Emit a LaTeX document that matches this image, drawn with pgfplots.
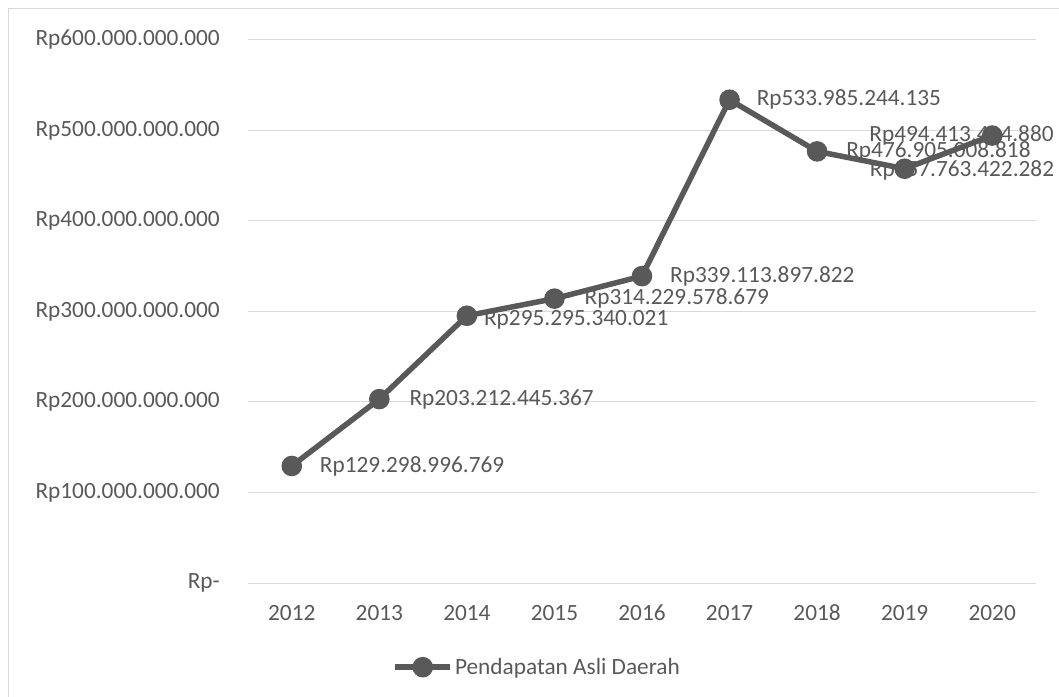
\documentclass[border=0pt]{standalone}
\usepackage{pgfplots}
\pgfplotsset{compat=1.18}
\usepackage{fontspec}
\setmainfont{Carlito}
\definecolor{tx}{HTML}{595959}
\definecolor{gr}{HTML}{D9D9D9}
\newcommand{\lf}{\fontsize{23.3bp}{27bp}\selectfont}
\begin{document}
\begin{tikzpicture}
\useasboundingbox (0,0) rectangle (1059bp,697bp);
\draw[gr, line width=1bp] (8.5bp,-5bp) rectangle (1065bp,688.5bp);
\begin{axis}[
  at={(248bp,114bp)}, anchor=south west,
  scale only axis, width=788bp, height=543bp,
  xmin=-0.5, xmax=8.5, ymin=0, ymax=600,
  clip=false,
  xtick={0,1,2,3,4,5,6,7,8},
  xticklabels={2012,2013,2014,2015,2016,2017,2018,2019,2020},
  ytick={0,100,200,300,400,500,600},
  yticklabels={Rp-\hspace{11bp},Rp100.000.000.000,Rp200.000.000.000,Rp300.000.000.000,Rp400.000.000.000,Rp500.000.000.000,Rp600.000.000.000},
  ymajorgrids, major grid style={gr, line width=1bp},
  axis line style={draw=none},
  major tick length=0pt,
  ticklabel style={font=\lf, text=tx, inner sep=0pt},
  yticklabel style={anchor=east, xshift=-28bp},
  xticklabel style={anchor=base, yshift=-37.5bp},
  legend style={at={(0.367,-0.155)}, anchor=center, draw=none, fill=none, font=\lf, text=tx, inner sep=0pt},
  legend image code/.code={\draw[line width=5.5bp, tx] (0bp,0bp) -- (55bp,0bp); \fill[tx] (27.5bp,0bp) circle (7.5bp);},
]
\addplot[tx, line width=5.5bp, mark=*, mark size=7.5bp, mark options={fill=tx, draw=tx}] coordinates {
  (0,129.298996769) (1,203.212445367) (2,295.295340021) (3,314.229578679) (4,339.113897822)
  (5,533.985244135) (6,476.905008818) (7,457.763422282) (8,494.413404880)
};
\addlegendentry{Pendapatan Asli Daerah}
\begin{scope}[every node/.style={font=\lf, text=tx, inner sep=0pt, anchor=west}]
\node[xshift=28bp] at (axis cs:0,129.298996769) {Rp129.298.996.769};
\node[xshift=30bp] at (axis cs:1,203.212445367) {Rp203.212.445.367};
\node[xshift=17bp, yshift=-4bp] at (axis cs:2,295.295340021) {Rp295.295.340.021};
\node[xshift=30bp] at (axis cs:3,314.229578679) {Rp314.229.578.679};
\node[xshift=28bp] at (axis cs:4,339.113897822) {Rp339.113.897.822};
\node[xshift=27bp] at (axis cs:5,533.985244135) {Rp533.985.244.135};
\node[xshift=29bp] at (axis cs:6,476.905008818) {Rp476.905.008.818};
\node[xshift=-35bp, yshift=-2bp] at (axis cs:7,457.763422282) {Rp457.763.422.282};
\node[xshift=-123bp] at (axis cs:8,494.413404880) {Rp494.413.404.880};
\end{scope}
\end{axis}
\end{tikzpicture}
\end{document}
